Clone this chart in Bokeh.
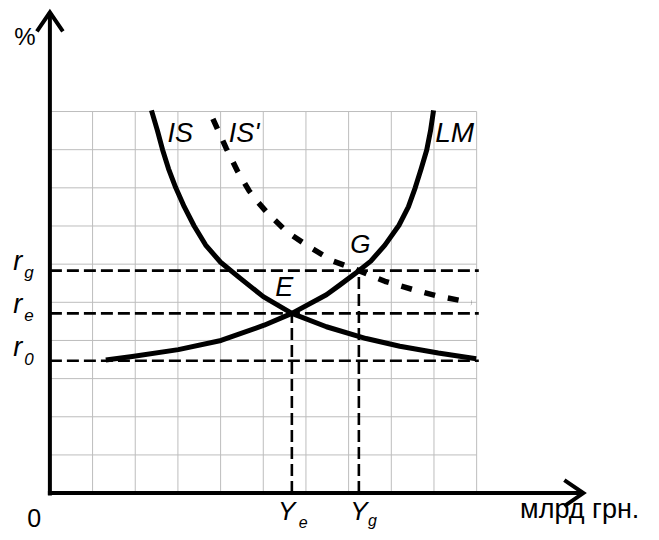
from bokeh.plotting import figure
from bokeh.models import Range1d
from bokeh.core.properties import value
from bokeh.embed import file_html
from bokeh.resources import INLINE

# ---------------- data ----------------
grid_x = [0, 1, 2, 3, 4, 5, 6, 7, 8, 9, 10]
grid_y = [0, 1, 2, 3, 4, 5, 6, 7, 8, 9, 10]

r_0 = 3.47
r_e = 4.71
r_g = 5.83
Y_e = 5.67
Y_g = 7.24

is_x = [2.38, 2.52, 2.64, 2.78, 2.95, 3.15, 3.38, 3.65, 4.00, 4.47, 5.00, 5.67, 6.48, 7.41, 8.20, 9.10, 9.99]
is_y = [10.03, 9.50, 9.00, 8.50, 8.00, 7.50, 7.00, 6.50, 6.05, 5.62, 5.15, 4.71, 4.36, 4.05, 3.85, 3.67, 3.52]

lm_x = [1.31, 1.93, 3.01, 4.01, 5.02, 5.67, 6.48, 6.79, 7.24, 7.52, 7.85, 8.18, 8.40, 8.56, 8.70, 8.83, 8.92, 8.99]
lm_y = [3.49, 3.58, 3.76, 4.00, 4.40, 4.71, 5.20, 5.45, 5.83, 6.08, 6.50, 7.02, 7.50, 8.00, 8.50, 8.99, 9.50, 10.03]

is2_x = [3.82, 4.13, 4.40, 4.67, 4.88, 5.09, 5.56, 6.08, 6.64, 7.24, 7.85, 8.49, 9.10, 9.88]
is2_y = [9.81, 9.04, 8.43, 7.92, 7.62, 7.35, 6.84, 6.45, 6.08, 5.83, 5.55, 5.34, 5.16, 4.99]

x_axis_end = 12.5
y_axis_end = 12.6
line_end = 10.05

# ---------------- layout ----------------
W, H = 651, 532
SX, SY = W / 659, H / 540      # fit the 659x540 design into the window
PX_X = 43.2 * SX    # pixels per x unit
PX_Y = 38.73 * SY   # pixels per y unit
OX, OY = 50 * SX, 500 * SY  # data origin inside the figure, px from left / top

p = figure(width=W, height=H, output_backend="svg", toolbar_location=None,
           x_range=Range1d(-OX / PX_X, (W - OX) / PX_X),
           y_range=Range1d(-(H - OY) / PX_Y, OY / PX_Y),
           x_axis_type=None, y_axis_type=None, min_border=0,
           background_fill_color="white", border_fill_color="white")
p.outline_line_color = None
p.xgrid.visible = False
p.ygrid.visible = False

GRID = "#bdbdbd"
# grid
p.segment(x0=grid_x, y0=[grid_y[0]] * len(grid_x), x1=grid_x, y1=[grid_y[-1]] * len(grid_x),
          line_color=GRID, line_width=1)
p.segment(x0=[grid_x[0]] * len(grid_y), y0=grid_y, x1=[grid_x[-1]] * len(grid_y), y1=grid_y,
          line_color=GRID, line_width=1)

# dashed guide lines
p.segment(x0=[0, 0, 0], y0=[r_0, r_e, r_g], x1=[line_end] * 3, y1=[r_0, r_e, r_g],
          line_color="black", line_width=2.6, line_dash="12 5")
p.segment(x0=[Y_e, Y_g], y0=[0, 0], x1=[Y_e, Y_g], y1=[r_e, r_g],
          line_color="black", line_width=2.6, line_dash="12 5")

# curves
p.line(is2_x, is2_y, line_color="black", line_width=5.5, line_dash="11 13", line_join="round")
p.line(is_x, is_y, line_color="black", line_width=5, line_join="round")
p.line(lm_x, lm_y, line_color="black", line_width=5, line_join="round")

# axes
AW = 4
p.line([0, 0], [-2.5 / PX_Y, y_axis_end], line_color="black", line_width=AW)
p.line([-2 / PX_X, x_axis_end], [0, 0], line_color="black", line_width=AW)
# arrow heads
p.line([-13 / PX_X, 0, 13 / PX_X], [y_axis_end - 19 / PX_Y, y_axis_end, y_axis_end - 19 / PX_Y],
       line_color="black", line_width=AW, line_join="miter")
p.line([x_axis_end - 19 / PX_X, x_axis_end, x_axis_end - 19 / PX_X],
       [13 / PX_Y, 0, -13 / PX_Y], line_color="black", line_width=AW, line_join="miter")

FONT = "Liberation Sans"
BASE_FIX = 0.37   # rendered glyphs sit this fraction of the font size below the anchor


def lab(text, px, py, size, style="normal"):
    # px, py: left / baseline position in the 659x540 design
    ys = py * SY - BASE_FIX * size
    p.text(x=[(px * SX - OX) / PX_X], y=[(OY - ys) / PX_Y], text=[text],
           text_font=value(FONT), text_font_size=value(f"{size}px"),
           text_font_style=value(style), text_color="black",
           text_align="left", text_baseline="alphabetic")


lab("%", 14, 46, 24)
lab("IS", 169, 145, 27, "italic")
lab("IS'", 231, 145, 27, "italic")
lab("LM", 440, 144, 28, "italic")
lab("G", 354, 257, 26, "italic")
lab("E", 278, 301, 27, "italic")

lab("r", 13, 275, 27, "italic")
lab("g", 24, 282, 17, "italic")
lab("r", 13, 318, 27, "italic")
lab("e", 24, 326, 17, "italic")
lab("r", 13, 362, 27, "italic")
lab("0", 24, 370, 17, "italic")

lab("0", 27, 535, 25)
lab("Y", 281, 528, 26, "italic")
lab("e", 302, 535, 16, "italic")
lab("Y", 354, 528, 26, "italic")
lab("g", 372, 534, 16, "italic")
lab("млрд грн.", 526, 526, 27)

open("out.html", "w").write(file_html(p, INLINE))
